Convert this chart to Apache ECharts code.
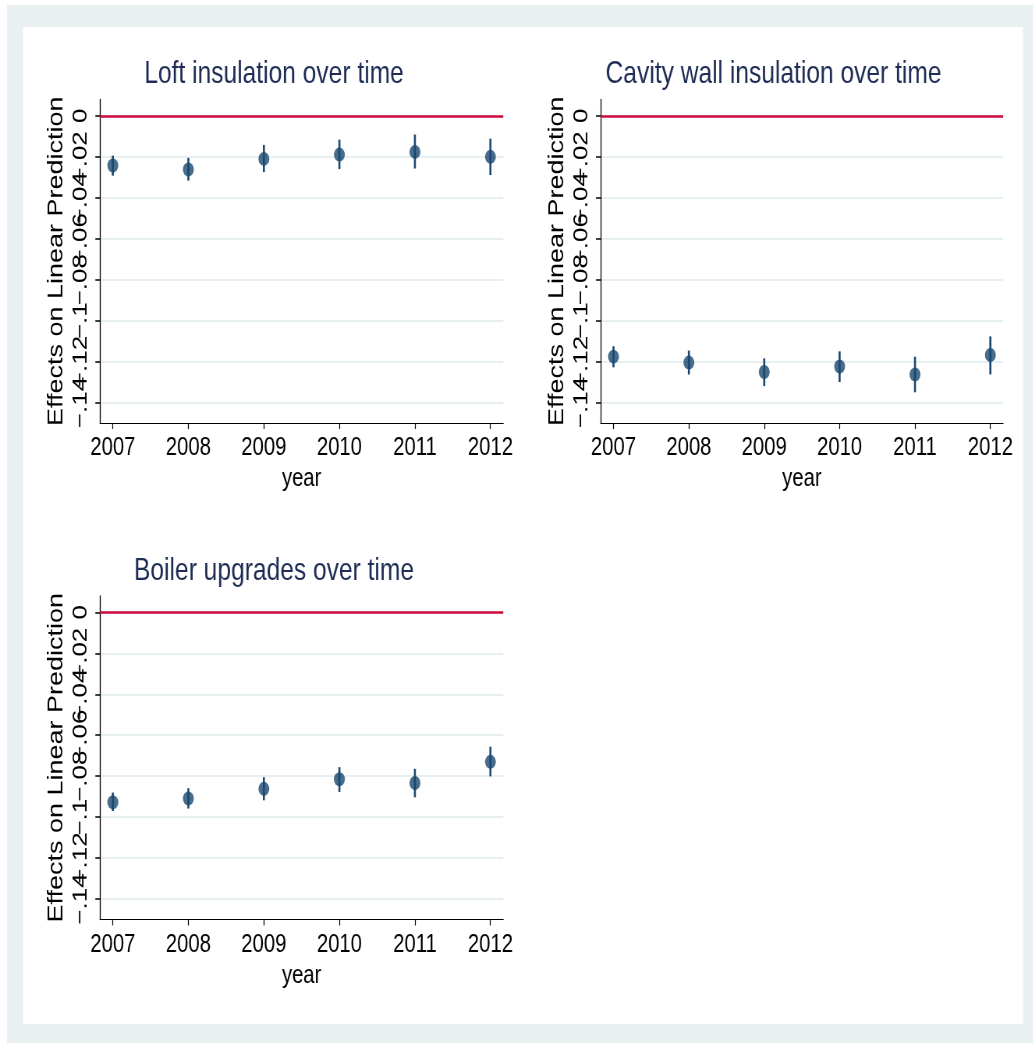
<!DOCTYPE html>
<html>
<head>
<meta charset="utf-8">
<title>Insulation and boiler effects over time</title>
<script src="https://cdn.jsdelivr.net/npm/echarts@6/dist/echarts.min.js"></script>
<style>
  html, body { margin: 0; padding: 0; background: #ffffff; overflow: hidden; }
  /* Chart is laid out on a wider canvas and squeezed horizontally */
  #chart { width: 1324px; height: 1043px; transform: scaleX(0.78); transform-origin: 0 0; }
</style>
</head>
<body>
<div id="chart"></div>
<script>
// ---- data -------------------------------------------------------------
const years = [2007, 2008, 2009, 2010, 2011, 2012];

const loftEst = [-0.0242, -0.0262, -0.0210, -0.0189, -0.0176, -0.0200];
const loftLo  = [-0.0292, -0.0316, -0.0275, -0.0260, -0.0257, -0.0289];
const loftHi  = [-0.0194, -0.0205, -0.0142, -0.0116, -0.0091, -0.0111];

const cavityEst = [-0.1176, -0.1205, -0.1251, -0.1224, -0.1263, -0.1168];
const cavityLo  = [-0.1228, -0.1263, -0.1320, -0.1300, -0.1350, -0.1263];
const cavityHi  = [-0.1125, -0.1146, -0.1184, -0.1150, -0.1176, -0.1077];

const boilerEst = [-0.0927, -0.0909, -0.0862, -0.0815, -0.0833, -0.0730];
const boilerLo  = [-0.0970, -0.0958, -0.0918, -0.0877, -0.0903, -0.0801];
const boilerHi  = [-0.0880, -0.0859, -0.0805, -0.0756, -0.0764, -0.0656];

const yTicks = [-0.14, -0.12, -0.1, -0.08, -0.06, -0.04, -0.02, 0];
const yTickLabels = ['\u2212.14', '\u2212.12', '\u2212.1', '\u2212.08', '\u2212.06', '\u2212.04', '\u2212.02', '0'];

const panelTitles = ['Loft insulation over time', 'Cavity wall insulation over time', 'Boiler upgrades over time'];

// ---- styling ----------------------------------------------------------
const FONT = "'Liberation Sans', Arial, Helvetica, sans-serif";
const NAVY = '#1a476f';
const RED = '#cc0a3c';
const GRID = '#e6eff1';
const BG = '#e8f0f2';
const TITLE = '#1f2d56';

const grids = [
  { left: 128.2, top: 99.5, width: 517, height: 323.5 },
  { left: 770.1, top: 99.5, width: 516, height: 323.5 },
  { left: 128.2, top: 596,  width: 517, height: 323.5 }
];
const titlePos = [[351.3, 74], [991.7, 74], [351.3, 571]];

function yLabel(v) {
  let best = 0;
  yTicks.forEach((t, i) => { if (Math.abs(t - v) < Math.abs(yTicks[best] - v)) best = i; });
  return yTickLabels[best];
}

// tick labels are split over two stacked axes so that every label is kept
// even where neighbouring labels run into each other
const ticksEven = yTicks.filter((t, i) => i % 2 === 1);   // -.12, -.08, -.04, 0
const ticksOdd  = yTicks.filter((t, i) => i % 2 === 0);   // -.14, -.1, -.06, -.02

const xAxes = grids.map((g, i) => ({
  type: 'value', gridIndex: i, min: 2006.83, max: 2012.17,
  axisLine: { show: true, onZero: false, lineStyle: { color: '#000', width: 1.2 } },
  axisTick: { show: true, length: 6, customValues: years, lineStyle: { color: '#000', width: 1.2 } },
  axisLabel: { customValues: years, fontSize: 26, fontFamily: FONT, color: '#000', margin: 12,
               showMinLabel: true, showMaxLabel: true,
               formatter: v => String(Math.round(v)) },
  splitLine: { show: false },
  name: 'year', nameLocation: 'middle', nameGap: 43,
  nameTextStyle: { fontSize: 26, fontFamily: FONT, color: '#000' }
}));

const labelStyle = { rotate: 90, fontSize: 26, fontFamily: FONT, color: '#000', margin: 11,
                     showMinLabel: true, showMaxLabel: true, hideOverlap: false, formatter: yLabel };

const yAxesMain = grids.map((g, i) => ({
  type: 'value', gridIndex: i, position: 'left', offset: 0, min: -0.15, max: 0.008,
  axisLine: { show: true, onZero: false, lineStyle: { color: '#000', width: 1.3 } },
  axisTick: { show: true, length: 6, customValues: yTicks, lineStyle: { color: '#000', width: 1.5 } },
  axisLabel: Object.assign({ customValues: ticksEven }, labelStyle),
  splitLine: { show: true, lineStyle: { color: GRID, width: 2 } },
  name: 'Effects on Linear Prediction', nameLocation: 'middle', nameGap: 42,
  nameTextStyle: { fontSize: 27, fontFamily: FONT, color: '#000' }
}));

const yAxesAlt = grids.map((g, i) => ({
  type: 'value', gridIndex: i, position: 'left', offset: 0, min: -0.15, max: 0.008,
  axisLine: { show: false, onZero: false },
  axisTick: { show: false },
  axisLabel: Object.assign({ customValues: ticksOdd }, labelStyle),
  splitLine: { show: false }
}));

const panels = [
  [loftEst, loftLo, loftHi],
  [cavityEst, cavityLo, cavityHi],
  [boilerEst, boilerLo, boilerHi]
];

const series = [];
panels.forEach(([est, lo, hi], i) => {
  // confidence interval spikes
  series.push({
    type: 'custom', xAxisIndex: i, yAxisIndex: i, z: 3,
    data: years.map((y, k) => [y, lo[k], hi[k]]),
    encode: { x: 0, y: [1, 2] },
    renderItem: (params, api) => {
      const x = api.value(0);
      const a = api.coord([x, api.value(1)]);
      const b = api.coord([x, api.value(2)]);
      return { type: 'line', shape: { x1: a[0], y1: a[1], x2: b[0], y2: b[1] },
               style: { stroke: NAVY, lineWidth: 2.6 } };
    }
  });
  // point estimates with the zero reference line
  series.push({
    type: 'scatter', xAxisIndex: i, yAxisIndex: i, z: 4,
    symbol: 'circle', symbolSize: 14,
    itemStyle: { color: NAVY },
    data: years.map((y, k) => [y, est[k]]),
    markLine: {
      silent: true, symbol: 'none', label: { show: false },
      lineStyle: { color: RED, width: 2.5, type: 'solid' },
      data: [{ yAxis: 0 }]
    }
  });
});

const graphic = [
  { type: 'rect', z: -100, silent: true, shape: { x: 9, y: 5, width: 1316, height: 1038 }, style: { fill: BG } },
  { type: 'rect', z: -99, silent: true, shape: { x: 29.5, y: 27, width: 1282, height: 997 }, style: { fill: '#ffffff' } }
].concat(titlePos.map((p, i) => ({
  type: 'text', x: p[0], y: p[1], silent: true,
  style: { text: panelTitles[i], fill: TITLE, font: '31.5px ' + FONT, align: 'center', verticalAlign: 'middle' }
})));

const chart = echarts.init(document.getElementById('chart'), null, { renderer: 'canvas' });
chart.setOption({
  animation: false,
  backgroundColor: '#ffffff',
  grid: grids,
  xAxis: xAxes,
  yAxis: yAxesMain.concat(yAxesAlt),
  series: series,
  graphic: graphic
});
</script>
</body>
</html>
